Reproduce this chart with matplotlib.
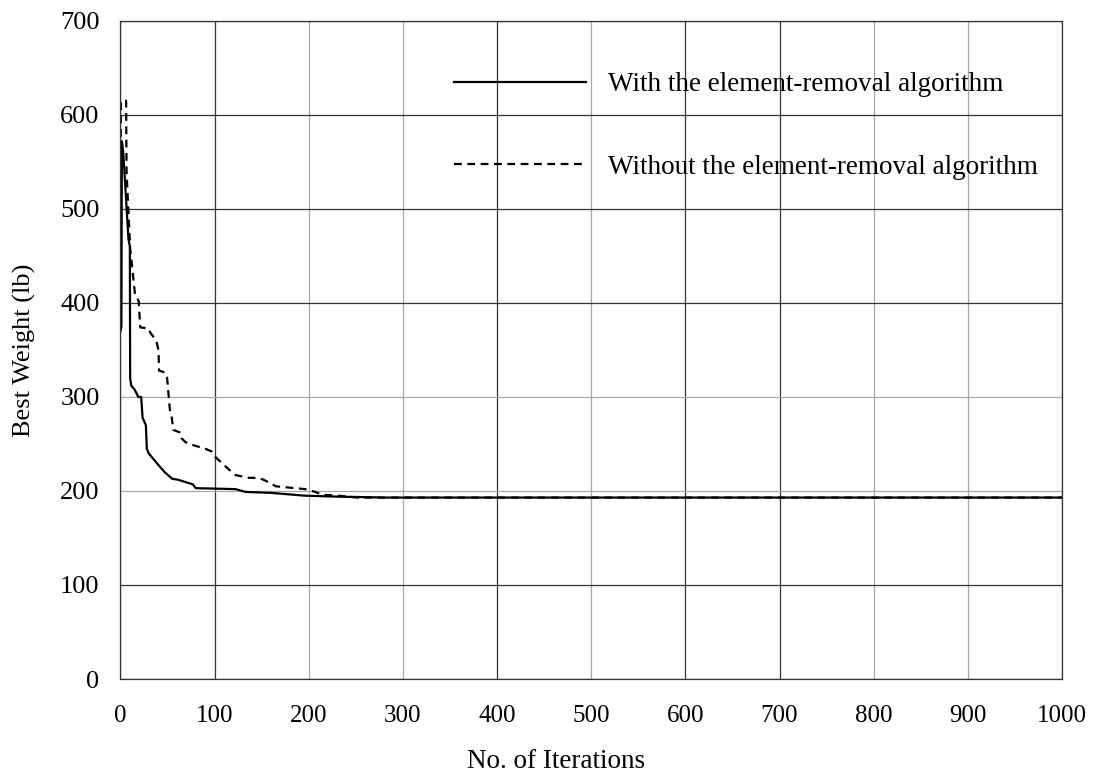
import matplotlib
matplotlib.use("Agg")
import matplotlib.pyplot as plt

# best weight per iteration
iter_with = [0, 1, 1.5, 3, 8.5, 10, 10.3, 11.5, 15, 19, 22, 23.5, 27, 28, 30, 40,
             47, 55, 61, 77, 80, 122, 133, 160, 196, 230, 282, 1000]
weight_with = [370, 375, 572, 560, 468, 460, 320, 312, 308, 300, 300, 278, 270, 245,
               240, 228, 220, 213, 212, 207, 203, 202, 199, 198, 195, 194, 193, 193]

iter_without = [0, 0.5, 6, 6.5, 10.3, 15.5, 19.4, 21, 29.7, 32, 38, 40.4, 41, 47.5,
                49.5, 52.5, 54.4, 56, 64, 65, 69, 73, 90, 97, 101, 115, 122, 136,
                147, 154, 165, 175, 196, 207, 214, 231, 252, 1000]
weight_without = [520, 615, 615, 540, 458, 409, 402, 374, 373, 368, 360, 350, 328, 326,
                  321, 286, 279, 265, 262, 256, 252, 250, 245, 242, 236, 223, 217, 214,
                  214, 211, 205, 204, 202, 199, 196, 195, 193, 193]

x_ticks = list(range(0, 1001, 100))
y_ticks = list(range(0, 701, 100))

plt.rcParams["font.family"] = ["Liberation Serif", "DejaVu Serif"]

fig = plt.figure(figsize=(11.01, 7.76), dpi=100)
ax = fig.add_axes([0.1094, 0.125, 0.8552, 0.848])

ax.plot(iter_with, weight_with, color="black", lw=1.6,
        label="With the element-removal algorithm")
ax.plot(iter_without, weight_without, color="black", lw=1.6, dashes=(3.5, 2.5),
        label="Without the element-removal algorithm")

ax.set_xlim(0, 1000)
ax.set_ylim(0, 700)
ax.set_xticks(x_ticks)
ax.set_yticks(y_ticks)
ax.tick_params(axis="both", length=0)
ax.tick_params(axis="x", pad=19, labelsize=18)
ax.tick_params(axis="y", pad=15, labelsize=19)

ax.grid(True, color="#333333", lw=0.9)
ax.set_axisbelow(True)
# some grid lines come out lighter in the original
for val, gl in zip(x_ticks, ax.get_xgridlines()):
    if val in (200, 300, 500, 800, 900):
        gl.set_color("#a8a8a8")
for val, gl in zip(y_ticks, ax.get_ygridlines()):
    if val in (200, 300):
        gl.set_color("#a8a8a8")

for s in ax.spines.values():
    s.set_color("#333333")
    s.set_linewidth(0.9)

ax.set_xlabel("No. of Iterations", fontsize=19.5)
ax.set_ylabel("Best Weight (lb)", fontsize=19)
ax.xaxis.set_label_coords(0.463, -0.106)
ax.yaxis.set_label_coords(-0.09, 0.5)

ax.legend(loc="upper left", bbox_to_anchor=(0.354, 0.922), frameon=False,
          fontsize=19.5, handlelength=4.9, handletextpad=0.8,
          labelspacing=2.12, borderpad=0, borderaxespad=0)

fig.savefig("out.png", dpi=100)
